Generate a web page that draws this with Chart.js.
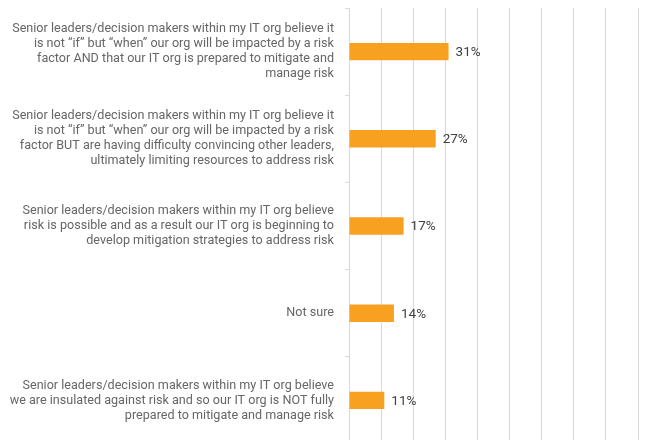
<!DOCTYPE html>
<html>
<head>
<meta charset="utf-8">
<script src="https://cdn.jsdelivr.net/npm/chart.js@4.4.0/dist/chart.umd.min.js"></script>
<style>
  html, body { margin: 0; padding: 0; background: #fff; overflow: hidden; }
  #wrap { width: 664px; height: 446px; }
</style>
</head>
<body>
<div id="wrap"><canvas id="risk-chart" width="664" height="446"></canvas></div>
<script>
const categories = [
  ['Senior leaders/decision makers within my IT org believe it',
   'is not \u201cif\u201d but \u201cwhen\u201d our org will be impacted by a risk',
   'factor AND that our IT org is prepared to mitigate and',
   'manage risk'],
  ['Senior leaders/decision makers within my IT org believe it',
   'is not \u201cif\u201d but \u201cwhen\u201d our org will be impacted by a risk',
   'factor BUT are having difficulty convincing other leaders,',
   'ultimately limiting resources to address risk'],
  ['Senior leaders/decision makers within my IT org believe',
   'risk is possible and as a result our IT org is beginning to',
   'develop mitigation strategies to address risk'],
  ['Not sure'],
  ['Senior leaders/decision makers within my IT org believe',
   'we are insulated against risk and so our IT org is NOT fully',
   'prepared to mitigate and manage risk']
];
const shares = [31, 27, 17, 14, 11];
const axisMax = 90;
const axisStep = 10;

const GRID = '#d9d9d9';

// percentage printed just past the end of each bar
const valueLabels = {
  id: 'valueLabels',
  afterDatasetsDraw(chart) {
    const ctx = chart.ctx;
    const meta = chart.getDatasetMeta(0);
    ctx.save();
    ctx.font = '13.5px Roboto';
    ctx.fillStyle = '#404040';
    ctx.textBaseline = 'middle';
    ctx.textAlign = 'left';
    meta.data.forEach((bar, i) => {
      ctx.fillText(shares[i] + '%', bar.x + 7, bar.y + 1);
    });
    ctx.restore();
  }
};

new Chart(document.getElementById('risk-chart'), {
  type: 'bar',
  data: {
    labels: categories,
    datasets: [{
      data: shares,
      backgroundColor: '#F8A01F',
      borderWidth: 0,
      barPercentage: 0.4,
      categoryPercentage: 0.5
    }]
  },
  options: {
    indexAxis: 'y',
    responsive: false,
    animation: false,
    layout: { padding: { top: 8, right: 26, bottom: 2, left: 0 } },
    plugins: { legend: { display: false }, tooltip: { enabled: false } },
    scales: {
      x: {
        min: 0,
        max: axisMax,
        ticks: { display: false, stepSize: axisStep },
        grid: { color: GRID, drawTicks: false },
        border: { display: false }
      },
      y: {
        afterFit: (scale) => {
          scale.width = 349;
          // long wrapped labels should not shrink the plot vertically
          scale.paddingTop = 0;
          scale.paddingBottom = 0;
        },
        ticks: {
          color: '#666666',
          font: { family: 'Roboto', size: 12.6, lineHeight: '15px' },
          padding: 11,
          autoSkip: false
        },
        grid: { color: GRID, drawOnChartArea: false, tickLength: 4, offset: true },
        border: { color: GRID }
      }
    }
  },
  plugins: [valueLabels]
});
</script>
</body>
</html>
